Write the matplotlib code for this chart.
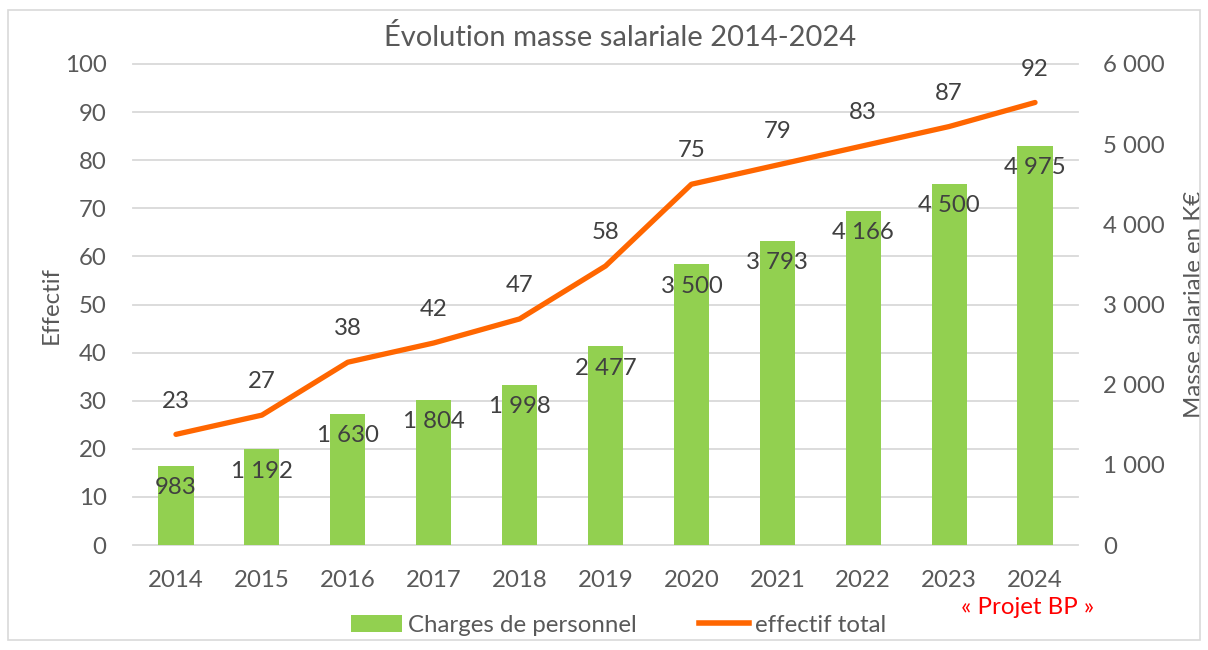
import matplotlib
matplotlib.use("Agg")
import matplotlib.pyplot as plt
from matplotlib.transforms import blended_transform_factory
from matplotlib.patches import Rectangle
from matplotlib.lines import Line2D
from matplotlib.patches import Patch

years = ["2014", "2015", "2016", "2017", "2018", "2019", "2020", "2021", "2022", "2023", "2024"]
charges = [983, 1192, 1630, 1804, 1998, 2477, 3500, 3793, 4166, 4500, 4975]
effectif = [23, 27, 38, 42, 47, 58, 75, 79, 83, 87, 92]
left_ticks = [0, 10, 20, 30, 40, 50, 60, 70, 80, 90, 100]
right_ticks = [0, 1000, 2000, 3000, 4000, 5000, 6000]

plt.rcParams['font.family'] = ['Lato', 'DejaVu Sans']
TXT = '#595959'
LBL = '#404040'
GREEN = '#92D050'
ORANGE = '#FF6600'
GRID = '#D9D9D9'
FS = 17.3

fmt = lambda v: f"{v:,}".replace(",", " ")

fig = plt.figure(figsize=(12.08, 6.5), dpi=100)
fig.patches.append(Rectangle((8/1208, 10/650), 1192/1208, 630/650, transform=fig.transFigure,
                             fill=False, edgecolor='#D9D9D9', linewidth=1.2))

ax = fig.add_axes([133/1208, 1-545/650, (1078-133)/1208, (545-64)/650])  # line axis (left)
ax2 = ax.twinx()  # bar axis (right)
ax.set_zorder(ax2.get_zorder() + 1)
ax.patch.set_visible(False)

x = list(range(len(years)))

# bars
ax2.bar(x, charges, width=0.41, color=GREEN, zorder=3)
ax2.set_ylim(0, 6000)
ax2.set_yticks(right_ticks)
ax2.set_yticklabels([fmt(v) for v in right_ticks])
for xi, v in zip(x, charges):
    ax2.annotate(fmt(v), (xi, v), xytext=(0, -8), textcoords='offset points',
                 ha='center', va='top', fontsize=FS, color=LBL, zorder=5)

# gridlines on bar axis, using left-axis positions
ax.set_ylim(0, 100)
tr = blended_transform_factory(ax2.transAxes, ax.transData)
for t in left_ticks:
    ax2.plot([0, 1], [t, t], transform=tr, color=GRID, lw=1.3, zorder=1, clip_on=False)

# line
ax.plot(x, effectif, color=ORANGE, lw=3.8, solid_capstyle='round', zorder=4)
for xi, v in zip(x, effectif):
    ax.annotate(str(v), (xi, v), xytext=(0, 24), textcoords='offset points',
                ha='center', va='center', fontsize=FS, color=LBL)
ax.set_yticks(left_ticks)
ax.set_xlim(-0.5, len(years) - 0.5)
ax.set_xticks(x)
ax.set_xticklabels(years)

for a in (ax, ax2):
    for s in a.spines.values():
        s.set_visible(False)
    a.tick_params(length=0, labelsize=FS, colors=TXT)
ax.tick_params(axis='y', pad=19)
ax.tick_params(axis='x', pad=18)
ax2.tick_params(axis='y', pad=18)

ax.set_ylabel("Effectif", fontsize=FS, color=TXT, labelpad=2)
ax2.set_ylabel("Masse salariale en K€", fontsize=FS, color=TXT, labelpad=14)

fig.text(620/1208, 1-38/650, "Évolution masse salariale 2014-2024", ha='center', va='center',
         fontsize=21, color=TXT)

handles = [Patch(facecolor=GREEN, edgecolor='none'),
           Line2D([0], [0], color=ORANGE, lw=4)]
fig.legend(handles, ["Charges de personnel", "effectif total"], loc='center',
           bbox_to_anchor=(619/1208, 1-625/650), ncol=2, frameon=False, fontsize=FS,
           labelcolor=TXT, handlelength=2.1, handletextpad=0.25, columnspacing=2.6)

fig.text(1028/1208, 1-608/650, "« Projet BP »", ha='center', va='center', fontsize=FS, color='#FF0000')

fig.savefig("out.png", dpi=100)
